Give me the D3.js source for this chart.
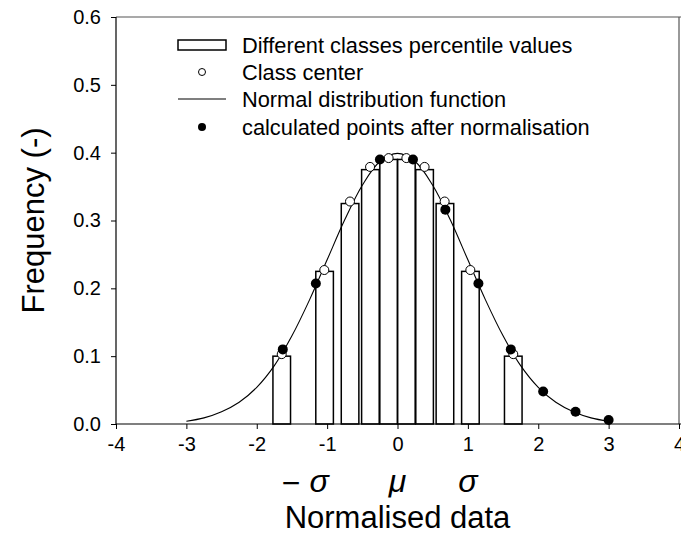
<!DOCTYPE html>
<html><head><meta charset="utf-8">
<script src="https://cdn.jsdelivr.net/npm/d3@7"></script>
<style>body{margin:0;background:#fff}svg{display:block}text{font-family:"Liberation Sans",Arial,sans-serif}</style>
</head><body>
<svg id="c" width="681" height="536"></svg>
<script>
// Class bars (class centre, height); width of each class
const barCenters = [-1.645, -1.036, -0.674, -0.385, -0.126, 0.126, 0.385, 0.674, 1.036, 1.645];
const barHeights = [0.100, 0.225, 0.325, 0.375, 0.390, 0.390, 0.375, 0.325, 0.225, 0.100];
const barWidth = 0.25;
// Class centre points (open circles)
const centerX = [-1.645, -1.04, -0.675, -0.39, -0.126, 0.126, 0.385, 0.67, 1.035, 1.645];
const centerY = [0.103, 0.227, 0.328, 0.379, 0.392, 0.392, 0.379, 0.328, 0.227, 0.103];
// Calculated points after normalisation (filled circles)
const calcX = [-1.63, -1.16, -0.25, 0.22, 0.68, 1.15, 1.61, 2.07, 2.53, 3.0];
const calcY = [0.110, 0.207, 0.390, 0.390, 0.316, 0.207, 0.110, 0.048, 0.018, 0.006];
// Normal distribution curve
const curveX = [-3, -2.75, -2.5, -2.25, -2, -1.75, -1.5, -1.25, -1, -0.75, -0.5, -0.25, 0, 0.25, 0.5, 0.75, 1, 1.25, 1.5, 1.75, 2, 2.25, 2.5, 2.75, 3];
const curveY = [0.004, 0.009, 0.018, 0.032, 0.054, 0.086, 0.130, 0.183, 0.242, 0.301, 0.352, 0.387, 0.399, 0.387, 0.352, 0.301, 0.242, 0.183, 0.130, 0.086, 0.054, 0.032, 0.018, 0.009, 0.004];
const xTicks = [-4, -3, -2, -1, 0, 1, 2, 3, 4];
const yTicks = [0.0, 0.1, 0.2, 0.3, 0.4, 0.5, 0.6];
const sigmaLabels = [{v: -1, sign: "−", t: "σ"}, {v: 0, sign: "", t: "μ"}, {v: 1, sign: "", t: "σ"}];
const legendItems = ["Different classes percentile values", "Class center", "Normal distribution function", "calculated points after normalisation"];

const svg = d3.select("#c");
const x = d3.scaleLinear().domain([-4, 4]).range([116, 679]);
const y = d3.scaleLinear().domain([0, 0.6]).range([424, 17]);

// frame
svg.append("line").attr("x1", x(-4)).attr("x2", x(4) + 2).attr("y1", y(0.6)).attr("y2", y(0.6)).attr("stroke", "#555").attr("stroke-width", 1.2);
svg.append("line").attr("x1", x(4)).attr("x2", x(4)).attr("y1", y(0.6)).attr("y2", y(0)).attr("stroke", "#555").attr("stroke-width", 1.2);

// bars
svg.append("g").selectAll("rect").data(barCenters).join("rect")
  .attr("x", (d) => x(d - barWidth / 2))
  .attr("width", (d) => x(d + barWidth / 2) - x(d - barWidth / 2))
  .attr("y", (d, i) => y(barHeights[i]))
  .attr("height", (d, i) => y(0) - y(barHeights[i]))
  .attr("fill", "none").attr("stroke", "#000").attr("stroke-width", 1.5);

// curve
svg.append("path").datum(curveX.map((v, i) => [v, curveY[i]]))
  .attr("d", d3.line().x((d) => x(d[0])).y((d) => y(d[1])).curve(d3.curveCatmullRom))
  .attr("fill", "none").attr("stroke", "#000").attr("stroke-width", 1.1);

// open circles
svg.append("g").selectAll("circle").data(centerX).join("circle")
  .attr("cx", (d) => x(d)).attr("cy", (d, i) => y(centerY[i])).attr("r", 4.5)
  .attr("fill", "#fff").attr("stroke", "#000").attr("stroke-width", 1);

// filled circles
svg.append("g").selectAll("circle").data(calcX).join("circle")
  .attr("cx", (d) => x(d)).attr("cy", (d, i) => y(calcY[i])).attr("r", 5)
  .attr("fill", "#000");

// axes
const xAxis = svg.append("g").attr("transform", `translate(0,${y(0)})`)
  .call(d3.axisBottom(x).tickValues(xTicks).tickSize(5).tickPadding(8).tickFormat((d) => String(d)));
const yAxis = svg.append("g").attr("transform", `translate(${x(-4)},0)`)
  .call(d3.axisLeft(y).tickValues(yTicks).tickSize(5).tickPadding(10).tickFormat(d3.format(".1f")));
[xAxis, yAxis].forEach((g) => {
  g.select(".domain").attr("stroke", "#000").attr("stroke-width", 1.2);
  g.selectAll(".tick line").attr("stroke", "#000");
  g.selectAll("text").attr("font-size", 20).attr("fill", "#000").attr("font-family", "Liberation Sans, Arial, sans-serif");
});
yAxis.select(".domain").attr("d", `M-0,${y(0)}V${y(0.6)}`);
xAxis.select(".domain").attr("d", `M${x(-4)},0H${x(4) + 2}`);

// sigma labels
const sg = svg.append("g");
sigmaLabels.forEach((d) => {
  const cx = d.sign ? x(d.v) - 8 : x(d.v);
  sg.append("text").attr("x", cx).attr("y", 492).attr("text-anchor", "middle")
    .attr("font-family", "Liberation Serif, serif").attr("font-style", "italic").attr("font-size", 32).text(d.t);
  if (d.sign) {
    sg.append("text").attr("x", x(d.v) - 36).attr("y", 494).attr("text-anchor", "middle")
      .attr("font-family", "Liberation Sans, sans-serif").attr("font-size", 32).text(d.sign);
  }
});

// axis titles
svg.append("text").attr("x", x(0)).attr("y", 528).attr("text-anchor", "middle").attr("font-size", 31).text("Normalised data");
svg.append("text").attr("transform", `translate(44,${y(0.3)}) rotate(-90)`).attr("text-anchor", "middle").attr("font-size", 31).text("Frequency (-)");

// legend
const lg = svg.append("g");
const rowY = [45, 72, 99, 127];
legendItems.forEach((t, i) => {
  lg.append("text").attr("x", 242).attr("y", rowY[i]).attr("dy", "0.35em").attr("font-size", 21.8).text(t);
});
lg.append("rect").attr("x", 178).attr("y", rowY[0] - 5).attr("width", 48).attr("height", 10).attr("fill", "none").attr("stroke", "#000").attr("stroke-width", 1.5);
lg.append("circle").attr("cx", 202).attr("cy", rowY[1]).attr("r", 3.5).attr("fill", "#fff").attr("stroke", "#000");
lg.append("line").attr("x1", 178).attr("x2", 226).attr("y1", rowY[2]).attr("y2", rowY[2]).attr("stroke", "#000").attr("stroke-width", 1.1);
lg.append("circle").attr("cx", 202).attr("cy", rowY[3]).attr("r", 4).attr("fill", "#000");
</script>
</body></html>
